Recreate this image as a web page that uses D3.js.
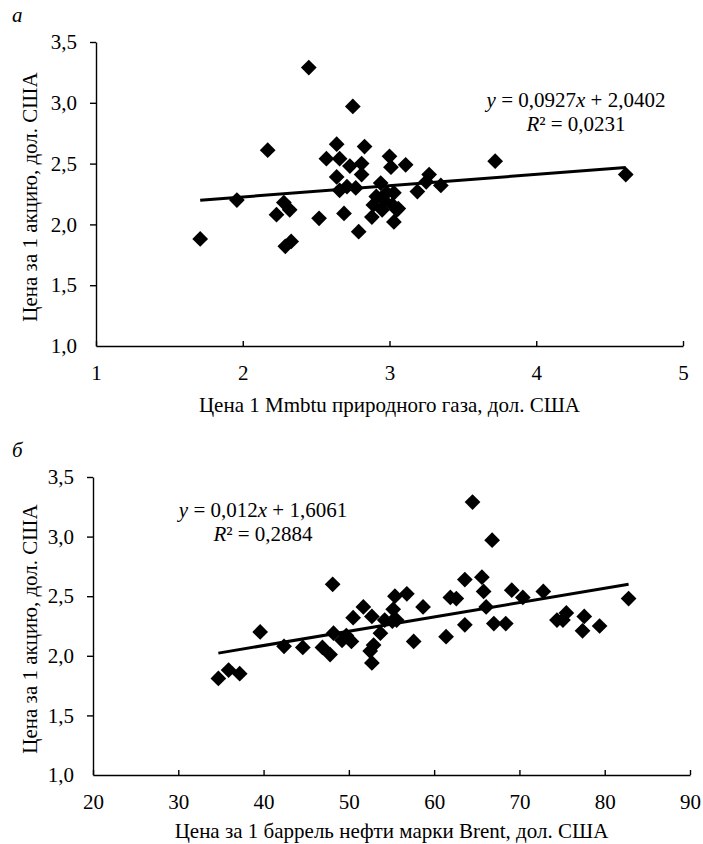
<!DOCTYPE html>
<meta charset="utf-8">
<script src="https://d3js.org/d3.v7.min.js"></script>
<style>
  body { margin: 0; background: #fff; }
</style>
<body>
<div id="chart"></div>
<script>
  // panel а: gas price (x) vs share price (y)
  var gasX = [1.71, 1.96, 2.17, 2.23, 2.28, 2.32, 2.29, 2.33, 2.45, 2.52, 2.57, 2.64, 2.64, 2.66, 2.66,
    2.69, 2.71, 2.73, 2.75, 2.77, 2.79, 2.81, 2.81, 2.83, 2.88, 2.89, 2.91, 2.94, 2.95, 2.96,
    2.98, 3.00, 3.01, 3.02, 3.03, 3.05, 3.06, 3.03, 3.11, 3.19, 3.25, 3.27, 3.35, 3.72, 4.61];
  var gasY = [1.88, 2.20, 2.61, 2.08, 2.18, 2.12, 1.82, 1.86, 3.29, 2.05, 2.54, 2.66, 2.39, 2.54, 2.28,
    2.09, 2.31, 2.48, 2.97, 2.30, 1.94, 2.41, 2.50, 2.64, 2.06, 2.16, 2.23, 2.34, 2.12, 2.20,
    2.26, 2.56, 2.47, 2.16, 2.02, 2.12, 2.13, 2.26, 2.49, 2.27, 2.35, 2.41, 2.32, 2.52, 2.41];
  var gasTrend = [0.0927, 2.0402];   // slope, intercept
  var gasR2 = "0,0231";

  // panel б: Brent price (x) vs share price (y)
  var oilX = [34.7, 35.9, 37.2, 39.6, 42.4, 44.6, 46.9, 47.8, 48.1, 48.2, 49.2, 49.7, 50.3, 50.5, 51.7,
    52.5, 52.7, 52.7, 52.9, 53.7, 54.2, 55.1, 55.2, 55.4, 55.6, 56.8, 57.6, 58.7, 61.4, 61.9,
    62.6, 63.6, 63.6, 64.5, 65.6, 65.8, 66.1, 66.8, 67.0, 68.4, 69.1, 70.4, 72.8, 74.4, 75.1,
    75.5, 77.4, 77.6, 79.4, 82.8];
  var oilY = [1.81, 1.88, 1.85, 2.20, 2.08, 2.07, 2.07, 2.01, 2.60, 2.19, 2.13, 2.17, 2.12, 2.32, 2.41,
    2.04, 2.33, 1.94, 2.09, 2.19, 2.30, 2.29, 2.39, 2.50, 2.30, 2.52, 2.12, 2.41, 2.16, 2.49,
    2.48, 2.64, 2.26, 3.29, 2.66, 2.54, 2.41, 2.97, 2.27, 2.27, 2.55, 2.49, 2.54, 2.30, 2.30,
    2.36, 2.21, 2.33, 2.25, 2.48];
  var oilTrend = [0.012, 1.6061];
  var oilR2 = "0,2884";

  var yTicks = [1.0, 1.5, 2.0, 2.5, 3.0, 3.5];
  var gasTicks = [1, 2, 3, 4, 5];
  var oilTicks = [20, 30, 40, 50, 60, 70, 80, 90];

  var yTitle = "Цена за 1 акцию, дол. США";
  var gasTitle = "Цена 1 Mmbtu природного газа, дол. США";
  var oilTitle = "Цена за 1 баррель нефти марки Brent, дол. США";

  var FONT = "'Liberation Serif', 'DejaVu Serif', serif";
  var W = 703, H = 844;
  var svg = d3.select("#chart").append("svg")
    .attr("width", W).attr("height", H)
    .style("font-family", FONT);

  var comma = function (d) { return d3.format(".1f")(d).replace(".", ","); };
  var diamond = d3.symbol().type(d3.symbolSquare).size(124);

  function label(sel) {
    return sel.style("font-family", FONT).style("font-size", "21px").attr("fill", "#000");
  }

  function panel(opt) {
    var x = d3.scaleLinear().domain(opt.xDomain).range([opt.left, opt.right]);
    var y = d3.scaleLinear().domain([1, 3.5]).range([opt.bottom, opt.top]);
    var g = svg.append("g");

    // y axis
    var ya = g.append("g")
      .attr("transform", "translate(" + opt.left + ",0)")
      .call(d3.axisLeft(y).tickValues(yTicks).tickFormat(comma)
        .tickSize(6).tickSizeOuter(0).tickPadding(13));
    ya.selectAll(".tick").filter(function (d) { return d === 1; }).select("line").remove();

    // x axis, ticks inward
    g.append("g")
      .attr("transform", "translate(0," + opt.bottom + ")")
      .call(d3.axisBottom(x).tickValues(opt.xTicks).tickFormat(d3.format("d"))
        .tickSize(-5).tickSizeOuter(0).tickPadding(19));

    g.selectAll("g").attr("font-family", null);
    g.selectAll(".domain, .tick line").attr("stroke", "#000").attr("stroke-width", 1.4);
    label(g.selectAll(".tick text"));

    // points
    var pts = opt.xs.map(function (v, i) { return [v, opt.ys[i]]; });
    g.append("g").selectAll("path").data(pts).enter().append("path")
      .attr("d", diamond)
      .attr("transform", function (d) {
        return "translate(" + x(d[0]) + "," + y(d[1]) + ") rotate(45)";
      })
      .attr("fill", "#000");

    // linear trend over the data range
    var x0 = d3.min(opt.xs), x1 = d3.max(opt.xs);
    var f = function (v) { return opt.trend[0] * v + opt.trend[1]; };
    g.append("line")
      .attr("x1", x(x0)).attr("y1", y(f(x0)))
      .attr("x2", x(x1)).attr("y2", y(f(x1)))
      .attr("stroke", "#000").attr("stroke-width", 3);

    // equation
    var eq = label(g.append("text")).attr("text-anchor", "middle")
      .attr("x", opt.eqX).attr("y", opt.eqY);
    eq.append("tspan").style("font-style", "italic").text("y");
    eq.append("tspan").text(" = " + String(opt.trend[0]).replace(".", ","));
    eq.append("tspan").style("font-style", "italic").text("x");
    eq.append("tspan").text(" + " + String(opt.trend[1]).replace(".", ","));

    var r2 = label(g.append("text")).attr("text-anchor", "middle")
      .attr("x", opt.eqX).attr("y", opt.eqY + 24);
    r2.append("tspan").style("font-style", "italic").text("R");
    r2.append("tspan").text("² = " + opt.r2);

    // titles
    label(g.append("text")).attr("text-anchor", "middle")
      .attr("transform", "translate(37," + ((opt.top + opt.bottom) / 2 + 3) + ") rotate(-90)")
      .text(yTitle);
    label(g.append("text")).attr("text-anchor", "middle")
      .attr("x", (opt.left + opt.right) / 2).attr("y", opt.bottom + opt.titleGap)
      .text(opt.xTitle);

    label(g.append("text")).style("font-style", "italic")
      .attr("x", 12).attr("y", opt.top - 20)
      .text(opt.letter);
  }

  panel({
    xs: gasX, ys: gasY, trend: gasTrend, r2: gasR2,
    xDomain: [1, 5], xTicks: gasTicks, xTitle: gasTitle, letter: "а",
    left: 96, right: 683, top: 42, bottom: 346, titleGap: 66,
    eqX: 576, eqY: 107
  });

  panel({
    xs: oilX, ys: oilY, trend: oilTrend, r2: oilR2,
    xDomain: [20, 90], xTicks: oilTicks, xTitle: oilTitle, letter: "б",
    left: 93, right: 690, top: 477, bottom: 775, titleGap: 63,
    eqX: 263, eqY: 517
  });
</script>
</body>
